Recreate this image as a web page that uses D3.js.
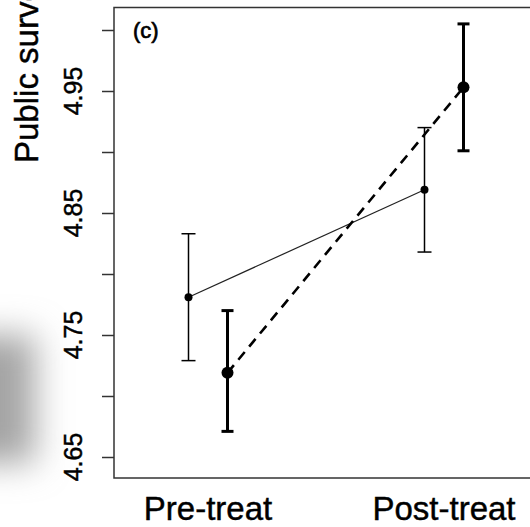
<!DOCTYPE html>
<html>
<head>
<meta charset="utf-8">
<script src="https://cdn.jsdelivr.net/npm/d3@7"></script>
<style>
  body { margin: 0; background: #fff; }
  text { font-family: "Liberation Sans", Arial, sans-serif; fill: #000; stroke: #000; stroke-width: 0.45px; }
</style>
</head>
<body>
<svg width="530" height="527"></svg>
<script>
var width = 530,
    height = 527;

// treatment phases
var categories = ["Pre-treat", "Post-treat"];

// thin solid series (mean, lower, upper)
var solidMean  = [4.781, 4.869],
    solidLower = [4.729, 4.818],
    solidUpper = [4.833, 4.920];

// thick dashed series
var dashMean  = [4.719, 4.953],
    dashLower = [4.671, 4.901],
    dashUpper = [4.770, 5.005];

var yTicks = [4.65, 4.70, 4.75, 4.80, 4.85, 4.90, 4.95, 5.00],
    yLabels = [4.65, 4.75, 4.85, 4.95];

var box = {left: 114, top: 7.5, right: 533, bottom: 478};

var x = d3.scalePoint()
    .domain(categories)
    .range([208, 444]);

var y = d3.scaleLinear()
    .domain([4.65, 5.00])
    .range([457, 30]);

var svg = d3.select("svg");

// soft grey smudge on the left edge
var defs = svg.append("defs");
defs.append("filter")
    .attr("id", "blur")
    .attr("x", "-100%").attr("y", "-100%")
    .attr("width", "300%").attr("height", "300%")
  .append("feGaussianBlur")
    .attr("stdDeviation", 17);

svg.append("rect")
    .attr("x", -40)
    .attr("y", 335)
    .attr("width", 75)
    .attr("height", 128)
    .attr("fill", "#a4a4a4")
    .attr("filter", "url(#blur)");

// plot frame
svg.append("rect")
    .attr("x", box.left)
    .attr("y", box.top)
    .attr("width", box.right - box.left)
    .attr("height", box.bottom - box.top)
    .attr("fill", "none")
    .attr("stroke", "#333")
    .attr("stroke-width", 1.5);

// y axis
var yAxis = d3.axisLeft(y)
    .tickValues(yTicks)
    .tickSize(12)
    .tickPadding(0)
    .tickFormat("");

var gy = svg.append("g")
    .attr("transform", "translate(" + box.left + ",0)")
    .call(yAxis);
gy.select(".domain").remove();
gy.selectAll(".tick line")
    .attr("stroke", "#333")
    .attr("stroke-width", 1.5);

svg.selectAll(".ylab")
    .data(yLabels)
    .enter().append("text")
    .attr("class", "ylab")
    .attr("transform", function(d) { return "translate(82," + y(d) + ") rotate(-90)"; })
    .attr("text-anchor", "middle")
    .style("font-size", "25px")
    .text(function(d) { return d3.format(".2f")(d); });

svg.append("text")
    .attr("transform", "translate(38,163) rotate(-90)")
    .attr("text-anchor", "start")
    .style("font-size", "33px")
    .text("Public surveillance support");

// x labels
svg.selectAll(".xlab")
    .data(categories)
    .enter().append("text")
    .attr("class", "xlab")
    .attr("x", function(d) { return x(d); })
    .attr("y", 520)
    .attr("text-anchor", "middle")
    .style("font-size", "33px")
    .text(function(d) { return d; });

svg.append("text")
    .attr("x", 133)
    .attr("y", 38)
    .style("font-size", "22px")
    .style("stroke-width", "0.7px")
    .text("(c)");

function drawSeries(mean, lower, upper, offset, opts) {
  var pts = categories.map(function(c, i) {
    return {x: x(c) + offset, m: mean[i], lo: lower[i], hi: upper[i]};
  });
  var g = svg.append("g");

  g.append("path")
      .datum(pts)
      .attr("fill", "none")
      .attr("stroke", opts.lineColor)
      .attr("stroke-width", opts.lineWidth)
      .attr("stroke-dasharray", opts.dash)
      .attr("d", d3.line().x(function(d) { return d.x; }).y(function(d) { return y(d.m); }));

  var bars = g.selectAll(".err").data(pts).enter().append("g");
  bars.append("line")
      .attr("x1", function(d) { return d.x; })
      .attr("x2", function(d) { return d.x; })
      .attr("y1", function(d) { return y(d.lo); })
      .attr("y2", function(d) { return y(d.hi); })
      .attr("stroke", "#000")
      .attr("stroke-width", opts.barWidth);
  ["lo", "hi"].forEach(function(k) {
    bars.append("line")
        .attr("x1", function(d) { return d.x - opts.cap; })
        .attr("x2", function(d) { return d.x + opts.cap; })
        .attr("y1", function(d) { return y(d[k]); })
        .attr("y2", function(d) { return y(d[k]); })
        .attr("stroke", "#000")
        .attr("stroke-width", opts.barWidth);
  });

  g.selectAll("circle")
      .data(pts)
      .enter().append("circle")
      .attr("cx", function(d) { return d.x; })
      .attr("cy", function(d) { return y(d.m); })
      .attr("r", opts.r)
      .attr("fill", "#000");
}

drawSeries(solidMean, solidLower, solidUpper, -19.5,
  {lineColor: "#222", lineWidth: 1.2, dash: null, barWidth: 1.5, cap: 7, r: 4});
drawSeries(dashMean, dashLower, dashUpper, 19.5,
  {lineColor: "#000", lineWidth: 2.6, dash: "10,7", barWidth: 3, cap: 6, r: 6});
</script>
</body>
</html>
